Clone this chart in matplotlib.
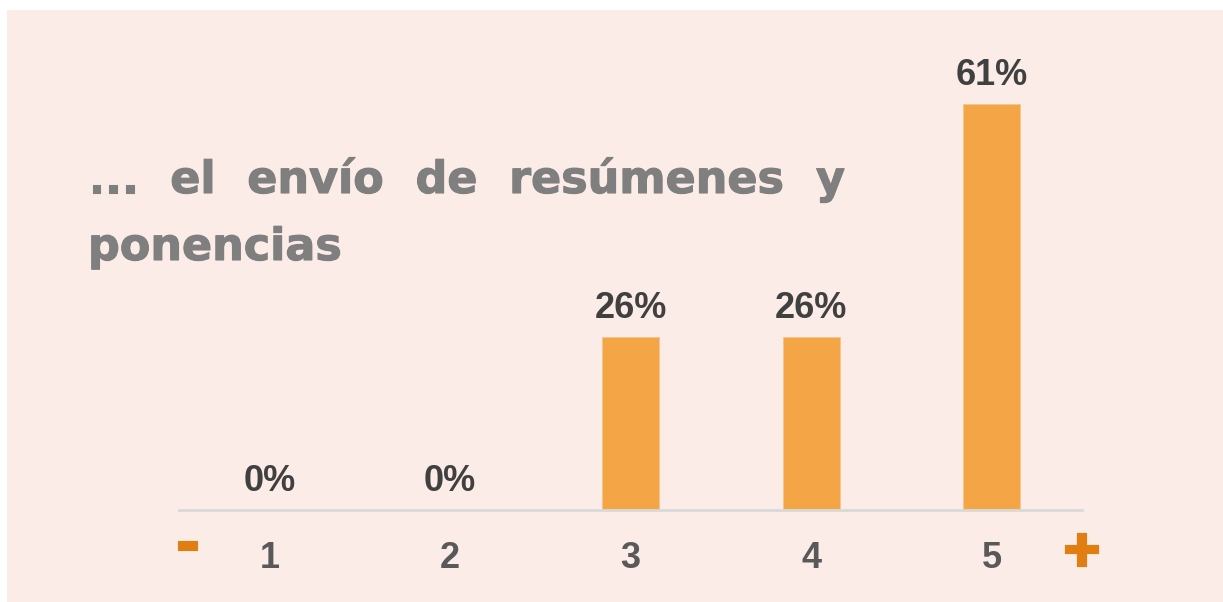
import matplotlib.pyplot as plt
import matplotlib.patheffects as pe
from matplotlib.patches import Rectangle

categories = ['1', '2', '3', '4', '5']
values = [0, 0, 26, 26, 61]
title_line1 = ['...', 'el', 'envío', 'de', 'resúmenes', 'y']
title_line2 = 'ponencias'

W, H = 1223, 602
fig = plt.figure(figsize=(W / 100, H / 100), dpi=100, facecolor='white')
# pink panel, offset from the top-left corner
fig.patches.append(Rectangle((7 / W, 0), 1, (H - 10) / H, transform=fig.transFigure,
                             facecolor='#FBECE7', edgecolor='none', zorder=-5))

ax = fig.add_axes([179 / W, (H - 510) / H, 903 / W, 465.5 / H])
ax.set_facecolor('none')
ax.set_zorder(2)
x = range(1, len(categories) + 1)
bars = ax.bar(x, values, width=0.315, color='#F4A647', edgecolor='#F8C58A', linewidth=0.6)
ax.bar_label(bars, labels=[f'{v}%' for v in values], padding=8, fontsize=26,
             fontweight='bold', color='#404040', family='Liberation Sans')
ax.set_xlim(0.5, 5.5)
ax.set_ylim(0, 70)
ax.set_xticks(list(x))
ax.set_xticklabels(categories, fontsize=26, fontweight='bold', color='#595959',
                   family='Liberation Sans')
ax.tick_params(axis='x', length=0, pad=22)
ax.set_yticks([])
for s in ['top', 'left', 'right']:
    ax.spines[s].set_visible(False)
ax.spines['bottom'].set_color('#D9D9D9')
ax.spines['bottom'].set_linewidth(2)

# minus / plus markers at the ends of the scale
orange = '#E27D12'
fig.text(188 / W, (H - 546) / H, '-', fontsize=42, fontweight='bold', color=orange,
         ha='center', va='center', family='DejaVu Sans',
         path_effects=[pe.withStroke(linewidth=1.5, foreground=orange, joinstyle='miter')])
fig.text(1082 / W, (H - 552) / H, '+', fontsize=34, fontweight='bold', color=orange,
         ha='center', va='center', family='DejaVu Sans',
         path_effects=[pe.withStroke(linewidth=3, foreground=orange, joinstyle='miter')])

# justified title
tcol = '#7F7F7F'
tsize = 32
heavy = [pe.withStroke(linewidth=0.8, foreground=tcol)]
fig.canvas.draw()
r = fig.canvas.get_renderer()
words = [fig.text(0, (H - 193) / H, w, fontsize=tsize, fontweight='bold', color=tcol,
                  family='DejaVu Sans', va='baseline', path_effects=heavy) for w in title_line1]
widths = [t.get_window_extent(renderer=r).width for t in words]
left, right = 88, 845
gap = (right - left - sum(widths)) / (len(words) - 1)
pos = left
for t, w in zip(words, widths):
    t.set_x(pos / W)
    pos += w + gap
fig.text(left / W, (H - 260) / H, title_line2, fontsize=tsize, fontweight='bold', color=tcol,
         family='DejaVu Sans', va='baseline', path_effects=heavy)

fig.savefig('out.png', dpi=100, facecolor=fig.get_facecolor())
